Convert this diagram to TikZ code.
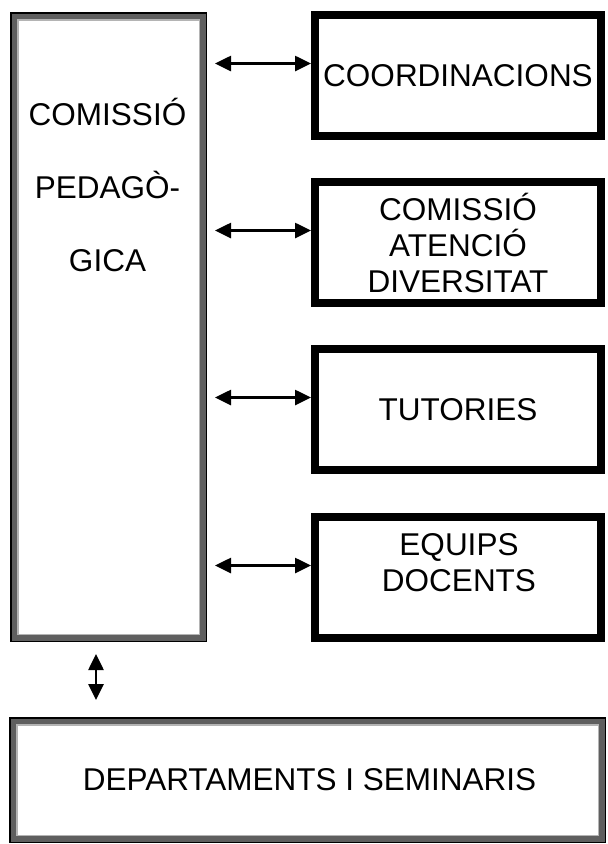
\documentclass[tikz,border=0pt]{standalone}
\usepackage{fontspec}
\setmainfont{Liberation Sans}
\usetikzlibrary{arrows.meta,calc}
\definecolor{bevdark}{HTML}{5F5F5F}
\definecolor{bevlight}{HTML}{B4B4B4}
\begin{document}
\begin{tikzpicture}[x=1pt,y=-1pt,
  every node/.style={font=\fontsize{31.5}{36}\selectfont, inner sep=0pt},
  rbox/.style={draw=black, line width=8pt, minimum width=286pt, minimum height=121pt, align=center, fill=white},
  bevbase/.style={fill=black, outer sep=0pt},
  darr/.style={line width=2.6pt, {Triangle[length=16pt,width=15pt]}-{Triangle[length=16pt,width=15pt]}},
  varr/.style={line width=2.6pt, {Triangle[length=16pt,width=15pt]}-{Triangle[length=16pt,width=15pt]}},
  lbl/.style={anchor=base}]
\useasboundingbox[fill=white] (0,0) rectangle (608,844);

% Comissio pedagogica (bevelled frame)
\node[bevbase, minimum width=197pt, minimum height=630pt] (cp) at (108.5,327) {};
\fill[bevdark] ($(cp.north west)+(1.5,1.5)$) rectangle ($(cp.south east)+(-1.5,-1.5)$);
\fill[bevlight] ($(cp.north west)+(7,7)$) rectangle ($(cp.south east)+(-7,-7)$);
\fill[white] ($(cp.north west)+(8.5,8.5)$) rectangle ($(cp.south east)+(-8.5,-8.5)$);
\node[lbl] (cp1) at ($(cp.north)+(-1,113.3)$) {COMISSIÓ};
\node[lbl] (cp2) at ($(cp.north)+(-1,186.3)$) {PEDAGÒ-};
\node[lbl] (cp3) at ($(cp.north)+(-1,259.3)$) {GICA};

% Departaments i seminaris
\node[bevbase, minimum width=597pt, minimum height=126pt] (dep) at (307.5,780) {};
\fill[bevdark] ($(dep.north west)+(1.5,1.5)$) rectangle ($(dep.south east)+(-1.5,-1.5)$);
\fill[bevlight] ($(dep.north west)+(7,7)$) rectangle ($(dep.south east)+(-7,-7)$);
\fill[white] ($(dep.north west)+(8.5,8.5)$) rectangle ($(dep.south east)+(-8.5,-8.5)$);
\node (deptext) at ($(dep.center)+(2,0)$) {DEPARTAMENTS I SEMINARIS};

% Right boxes
\node[rbox] (b1) at (458,75.5) {COORDINACIONS};
\node[rbox] (b2) at (458,242.5) {COMISSIÓ\\ATENCIÓ\\DIVERSITAT};
\node[rbox] (b3) at (458,409.5) {TUTORIES};
\node[rbox] (b4) at (458,577.5) {};
\node[align=center] (b4t) at ($(b4.center)+(1,-15)$) {EQUIPS\\DOCENTS};

% Connectors
\foreach \b in {b1,b2,b3,b4}
  \draw[darr] ($(cp.east |- \b.west)+(8,-12)$) -- ($(\b.west)+(0,-12)$);
\draw[varr] ($(cp.south)+(-12.5,12)$) -- ($(cp.south |- dep.north)+(-12.5,-17)$);
\end{tikzpicture}
\end{document}
